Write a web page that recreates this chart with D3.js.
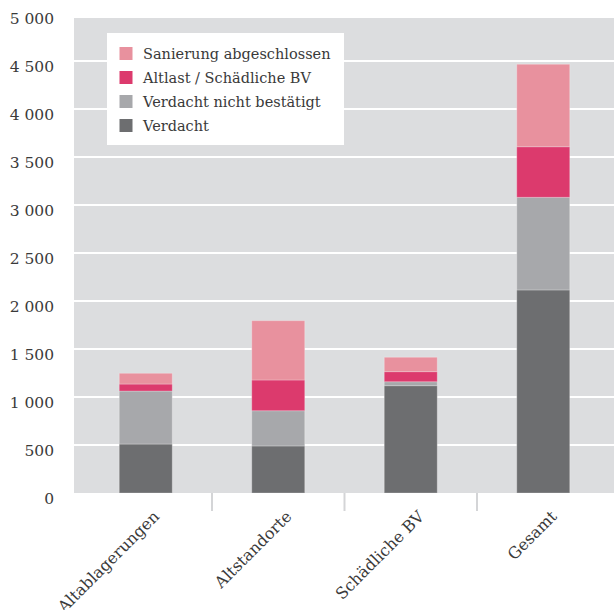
<!DOCTYPE html>
<html><head><meta charset="utf-8">
<script src="https://cdn.jsdelivr.net/npm/d3@7"></script>
<style>body{margin:0;background:#fff}svg{display:block}</style>
</head><body>
<svg id="chart" width="614" height="610"></svg>
<script>
const categories = ["Altablagerungen", "Altstandorte", "Schädliche BV", "Gesamt"];
const seriesNames = ["Verdacht", "Verdacht nicht bestätigt", "Altlast / Schädliche BV", "Sanierung abgeschlossen"];
const verdacht = [510, 490, 1118, 2115];
const nichtBestaetigt = [552, 367, 41, 965];
const altlast = [73, 320, 105, 527];
const saniert = [112, 618, 150, 859];
const colors = ["#6d6e70", "#a7a8ab", "#dc3a6d", "#e8919e"];
const yTicks = [0, 500, 1000, 1500, 2000, 2500, 3000, 3500, 4000, 4500, 5000];

const svg = d3.select("#chart");
const font = "'DejaVu Serif', serif";
const plot = {left: 74, right: 614, top: 18, bottom: 493};

const x = d3.scaleBand().domain(categories).range([79.5, 609.5]).paddingInner(0.6).paddingOuter(0.3);
const y = d3.scaleLinear().domain([0, 5000]).range([493, 13]);

const rows = categories.map((c, i) => ({cat: c, s0: verdacht[i], s1: nichtBestaetigt[i], s2: altlast[i], s3: saniert[i]}));
const stack = d3.stack().keys(["s0", "s1", "s2", "s3"])(rows);

svg.append("defs").append("clipPath").attr("id", "clip")
  .append("rect").attr("x", plot.left).attr("y", plot.top).attr("width", plot.right - plot.left).attr("height", plot.bottom - plot.top);

svg.append("rect").attr("x", plot.left).attr("y", plot.top)
  .attr("width", plot.right - plot.left).attr("height", plot.bottom - plot.top).attr("fill", "#dcdddf");

// gridlines
svg.append("g").selectAll("line").data(yTicks.filter(t => t > 0)).join("line")
  .attr("clip-path", "url(#clip)")
  .attr("x1", plot.left).attr("x2", plot.right)
  .attr("y1", d => y(d)).attr("y2", d => y(d))
  .attr("stroke", "#ffffff").attr("stroke-width", 2);

// y labels
svg.append("g").selectAll("text").data(yTicks).join("text")
  .attr("x", 54).attr("y", d => y(d) + 6).attr("dy", "0.35em")
  .attr("text-anchor", "end").attr("font-family", font).attr("font-size", 15.5).attr("fill", "#3a3a3a")
  .text(d => d3.format(",")(d).replace(/,/g, " "));

// bars
const g = svg.append("g").attr("clip-path", "url(#clip)");
stack.forEach((layer, li) => {
  g.selectAll(null).data(layer).join("rect")
    .attr("x", d => x(d.data.cat)).attr("width", x.bandwidth())
    .attr("y", d => y(d[1])).attr("height", d => y(d[0]) - y(d[1]))
    .attr("fill", colors[li]).attr("stroke", "rgba(255,255,255,0.25)").attr("stroke-width", 1);
});

// x ticks between bands
const step = x.step();
svg.append("g").selectAll("line").data(categories.slice(1)).join("line")
  .attr("x1", d => x(d) - (step - x.bandwidth()) / 2).attr("x2", d => x(d) - (step - x.bandwidth()) / 2)
  .attr("y1", plot.bottom).attr("y2", 511)
  .attr("stroke", "#d4d5d7").attr("stroke-width", 2);

// x labels
svg.append("g").selectAll("text").data(categories).join("text")
  .attr("transform", d => `translate(${x(d) + x.bandwidth() / 2 + 6},${509}) rotate(-45)`)
  .attr("text-anchor", "end").attr("dy", "0.75em")
  .attr("font-family", font).attr("font-size", 16).attr("fill", "#3a3a3a")
  .text(d => d);

// legend
const lg = svg.append("g");
lg.append("rect").attr("x", 107).attr("y", 33).attr("width", 237).attr("height", 112).attr("fill", "#ffffff");
const legendItems = seriesNames.map((n, i) => ({name: n, color: colors[i]})).reverse();
legendItems.forEach((it, i) => {
  const cy = 53.5 + i * 24;
  lg.append("rect").attr("x", 119.5).attr("y", cy - 6.5).attr("width", 13).attr("height", 13).attr("fill", it.color);
  lg.append("text").attr("x", 143).attr("y", cy).attr("dy", "0.35em")
    .attr("font-family", font).attr("font-size", 14.5).attr("fill", "#3a3a3a").text(it.name);
});
</script>
</body></html>
